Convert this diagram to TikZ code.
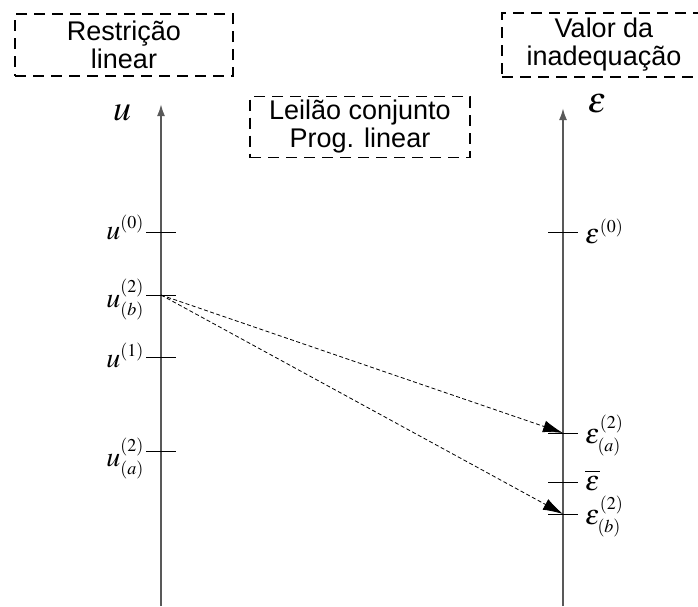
\documentclass[tikz,border=0pt]{standalone}
\usepackage{mathptmx}
\usepackage{fontspec}
\setsansfont{Liberation Sans}
\usepackage{tikz}
\usetikzlibrary{positioning, arrows.meta}
\DeclareMathSizes{28}{28}{18}{13}

\begin{document}
\begin{tikzpicture}[
    x=1pt, y=-1pt,
    labelbox/.style={draw, dash pattern=on 11pt off 7pt, line width=1.2pt, align=center,
        font=\sffamily\fontsize{27}{28}\selectfont, inner sep=0pt},
    axis/.style={draw=black!65, line width=2pt, -{Latex[length=12pt,width=8pt]}},
    tick/.style={draw=black, line width=1pt},
    link/.style={draw=black, line width=0.8pt, dash pattern=on 4pt off 2.5pt,
        -{Latex[length=20pt,width=12pt]}},
    ticklabel/.style={font=\fontsize{28}{32}\selectfont, inner sep=0pt},
    head/.style={font=\fontsize{36}{40}\selectfont, inner sep=0pt}
]
\useasboundingbox (0,0) rectangle (698,606);

% Boxes
\node[labelbox, minimum width=218pt, minimum height=62pt] (restr) at (124,45) {Restrição\\linear};
\node[labelbox, minimum width=204pt, minimum height=64pt] (valor) at (604,45) {Valor da\\inadequação};
\node[labelbox, minimum width=220pt, minimum height=61pt] (leilao) at (360,127) {Leilão conjunto\\Prog. linear};

% Axes
\coordinate (ubot) at (161,606);
\coordinate (utop) at (161,104);
\coordinate (ebot) at (563,606);
\coordinate (etop) at (563,108);
\draw[axis] (ubot) -- (utop);
\draw[axis] (ebot) -- (etop);
\node[head, anchor=base] (uname) at (122,120) {$u$};
\node[head, anchor=base] (ename) at (597,112) {$\varepsilon$};

% Ticks on u
\coordinate (u0) at (161,232);
\coordinate (ub) at (161,295);
\coordinate (u1) at (161,357);
\coordinate (ua) at (161,451);
\foreach \c in {u0,ub,u1,ua}
    \draw[tick] ([xshift=-15pt]\c) -- ([xshift=15pt]\c);
\node[ticklabel, anchor=base east] (lu0) at (144,239) {$u^{(0)}$};
\node[ticklabel, anchor=base east] (lub) at (144,307) {$u^{(2)}_{(b)}$};
\node[ticklabel, anchor=base east] (lu1) at (144,367) {$u^{(1)}$};
\node[ticklabel, anchor=base east] (lua) at (144,466) {$u^{(2)}_{(a)}$};

% Ticks on epsilon
\coordinate (e0) at (563,232);
\coordinate (ea) at (563,433);
\coordinate (eb) at (563,482);
\coordinate (eb2) at (563,514);
\foreach \c in {e0,ea,eb,eb2}
    \draw[tick] ([xshift=-15pt]\c) -- ([xshift=15pt]\c);
\node[ticklabel, anchor=base west] (le0) at (585,243) {$\varepsilon^{(0)}$};
\node[ticklabel, anchor=base west] (lea) at (585,443) {$\varepsilon^{(2)}_{(a)}$};
\node[ticklabel, anchor=base west] (lbar) at (585,490) {$\overline{\varepsilon}$};
\node[ticklabel, anchor=base west] (leb) at (585,524) {$\varepsilon^{(2)}_{(b)}$};

% Links
\draw[link] (ub) -- (ea);
\draw[link] (ub) -- (eb2);
\end{tikzpicture}
\end{document}
